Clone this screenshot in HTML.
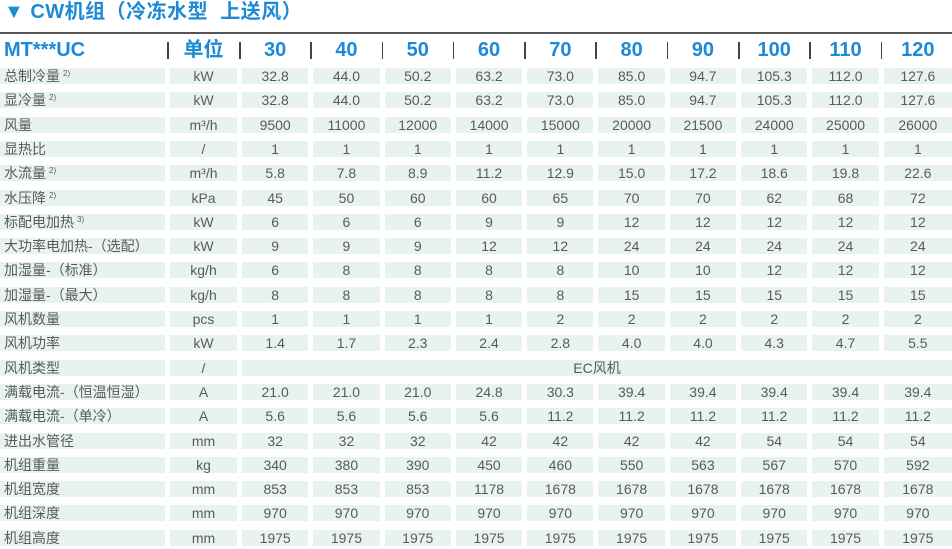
<!DOCTYPE html>
<html><head><meta charset="utf-8"><style>
body{margin:0;width:952px;height:549px;background:#fff;overflow:hidden;font-family:"Liberation Sans","Noto Sans CJK SC",sans-serif;position:relative}
.title{position:absolute;left:4px;top:0;font-size:20px;font-weight:bold;color:#1d8ad6;line-height:24px;letter-spacing:0.5px}
.line{position:absolute;left:0;top:32px;width:952px;height:2px;background:#555}
.grid{position:absolute;left:0;display:grid;grid-template-columns:165px 67px repeat(9,66.3px) 1fr;column-gap:5px;width:952px}
.hdr{top:37px;height:26px;font-size:20px;font-weight:bold;color:#1d8ad6;line-height:26px}
.hdr div{text-align:center;position:relative}
.hdr div.sep::before{content:"";position:absolute;left:-3px;top:5px;width:1.5px;height:17px;background:#444}
.hdr div:first-child{text-align:left;padding-left:4px}
.r{height:16px;font-size:14px;color:#5a5a5a;line-height:16px;overflow:hidden}
.r div{background:#e8f3f1;text-align:center;white-space:nowrap;height:16px;line-height:16px;overflow:hidden}
.r div:first-child{text-align:left;padding-left:4px}
.s{font-size:8px;position:relative;top:-5px;line-height:0;margin-left:3px}
</style></head><body>
<div class="title">▼ CW机组（冷冻水型&nbsp; 上送风）</div>
<div class="line"></div>
<div class="grid hdr"><div>MT***UC</div><div class="sep">单位</div><div class="sep">30</div><div class="sep">40</div><div class="sep">50</div><div class="sep">60</div><div class="sep">70</div><div class="sep">80</div><div class="sep">90</div><div class="sep">100</div><div class="sep">110</div><div class="sep">120</div></div>

<div class="grid r" style="top:68px"><div>总制冷量<span class="s">2)</span></div><div>kW</div><div>32.8</div><div>44.0</div><div>50.2</div><div>63.2</div><div>73.0</div><div>85.0</div><div>94.7</div><div>105.3</div><div>112.0</div><div>127.6</div></div>
<div class="grid r" style="top:92.3px"><div>显冷量<span class="s">2)</span></div><div>kW</div><div>32.8</div><div>44.0</div><div>50.2</div><div>63.2</div><div>73.0</div><div>85.0</div><div>94.7</div><div>105.3</div><div>112.0</div><div>127.6</div></div>
<div class="grid r" style="top:116.6px"><div>风量</div><div>m³/h</div><div>9500</div><div>11000</div><div>12000</div><div>14000</div><div>15000</div><div>20000</div><div>21500</div><div>24000</div><div>25000</div><div>26000</div></div>
<div class="grid r" style="top:140.9px"><div>显热比</div><div>/</div><div>1</div><div>1</div><div>1</div><div>1</div><div>1</div><div>1</div><div>1</div><div>1</div><div>1</div><div>1</div></div>
<div class="grid r" style="top:165.2px"><div>水流量<span class="s">2)</span></div><div>m³/h</div><div>5.8</div><div>7.8</div><div>8.9</div><div>11.2</div><div>12.9</div><div>15.0</div><div>17.2</div><div>18.6</div><div>19.8</div><div>22.6</div></div>
<div class="grid r" style="top:189.5px"><div>水压降<span class="s">2)</span></div><div>kPa</div><div>45</div><div>50</div><div>60</div><div>60</div><div>65</div><div>70</div><div>70</div><div>62</div><div>68</div><div>72</div></div>
<div class="grid r" style="top:213.8px"><div>标配电加热<span class="s">3)</span></div><div>kW</div><div>6</div><div>6</div><div>6</div><div>9</div><div>9</div><div>12</div><div>12</div><div>12</div><div>12</div><div>12</div></div>
<div class="grid r" style="top:238.1px"><div>大功率电加热-（选配）</div><div>kW</div><div>9</div><div>9</div><div>9</div><div>12</div><div>12</div><div>24</div><div>24</div><div>24</div><div>24</div><div>24</div></div>
<div class="grid r" style="top:262.4px"><div>加湿量-（标准）</div><div>kg/h</div><div>6</div><div>8</div><div>8</div><div>8</div><div>8</div><div>10</div><div>10</div><div>12</div><div>12</div><div>12</div></div>
<div class="grid r" style="top:286.7px"><div>加湿量-（最大）</div><div>kg/h</div><div>8</div><div>8</div><div>8</div><div>8</div><div>8</div><div>15</div><div>15</div><div>15</div><div>15</div><div>15</div></div>
<div class="grid r" style="top:311px"><div>风机数量</div><div>pcs</div><div>1</div><div>1</div><div>1</div><div>1</div><div>2</div><div>2</div><div>2</div><div>2</div><div>2</div><div>2</div></div>
<div class="grid r" style="top:335.3px"><div>风机功率</div><div>kW</div><div>1.4</div><div>1.7</div><div>2.3</div><div>2.4</div><div>2.8</div><div>4.0</div><div>4.0</div><div>4.3</div><div>4.7</div><div>5.5</div></div>
<div class="grid r" style="top:359.6px"><div>风机类型</div><div>/</div><div style="grid-column:3 / 13">EC风机</div></div>
<div class="grid r" style="top:383.9px"><div>满载电流-（恒温恒湿）</div><div>A</div><div>21.0</div><div>21.0</div><div>21.0</div><div>24.8</div><div>30.3</div><div>39.4</div><div>39.4</div><div>39.4</div><div>39.4</div><div>39.4</div></div>
<div class="grid r" style="top:408.2px"><div>满载电流-（单冷）</div><div>A</div><div>5.6</div><div>5.6</div><div>5.6</div><div>5.6</div><div>11.2</div><div>11.2</div><div>11.2</div><div>11.2</div><div>11.2</div><div>11.2</div></div>
<div class="grid r" style="top:432.5px"><div>进出水管径</div><div>mm</div><div>32</div><div>32</div><div>32</div><div>42</div><div>42</div><div>42</div><div>42</div><div>54</div><div>54</div><div>54</div></div>
<div class="grid r" style="top:456.8px"><div>机组重量</div><div>kg</div><div>340</div><div>380</div><div>390</div><div>450</div><div>460</div><div>550</div><div>563</div><div>567</div><div>570</div><div>592</div></div>
<div class="grid r" style="top:481.1px"><div>机组宽度</div><div>mm</div><div>853</div><div>853</div><div>853</div><div>1178</div><div>1678</div><div>1678</div><div>1678</div><div>1678</div><div>1678</div><div>1678</div></div>
<div class="grid r" style="top:505.4px"><div>机组深度</div><div>mm</div><div>970</div><div>970</div><div>970</div><div>970</div><div>970</div><div>970</div><div>970</div><div>970</div><div>970</div><div>970</div></div>
<div class="grid r" style="top:529.7px"><div>机组高度</div><div>mm</div><div>1975</div><div>1975</div><div>1975</div><div>1975</div><div>1975</div><div>1975</div><div>1975</div><div>1975</div><div>1975</div><div>1975</div></div>
</body></html>
